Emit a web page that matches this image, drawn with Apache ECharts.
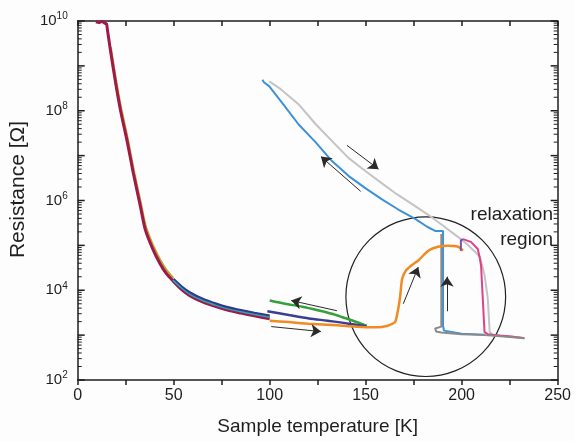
<!DOCTYPE html>
<html><head><meta charset="utf-8">
<script src="https://cdn.jsdelivr.net/npm/echarts@6/dist/echarts.min.js"></script>
<style>html,body{margin:0;padding:0;background:#fdfdfd}#c{width:574px;height:441px}</style>
</head><body><div id="c"></div><script>
// ---------- data (temperature K, resistance Ohm) ----------
const T_olive = [17, 19.7, 22.2, 25.9, 29, 32.6, 35.2, 39, 42.9, 46, 49.6];
const R_olive = [2.6e9, 4.9e8, 1.25e8, 2.3e7, 4.7e6, 9.0e5, 2.7e5, 1.0e5, 4.6e4, 2.8e4, 1.85e4];

const T_red = [9.5, 11, 12.5, 14, 15, 15.5, 17, 19.7, 22.2, 25.9, 29, 32.6, 35.2, 39, 42.9, 46, 49.6, 54, 58.4, 65, 72, 78, 85, 92, 100];
const R_red = [9.6e9, 9.3e9, 9.7e9, 9.0e9, 8.6e9, 6.3e9, 2.3e9, 4.3e8, 1.07e8, 1.95e7, 4.0e6, 7.6e5, 2.24e5, 8.5e4, 3.9e4, 2.4e4, 1.62e4, 1.05e4, 7.6e3, 5.5e3, 4.3e3, 3.6e3, 3.1e3, 2.7e3, 2.3e3];

const T_navyA = [49.6, 54, 58.4, 65, 72, 78, 85, 92, 100];
const R_navyA = [1.75e4, 1.18e4, 8.7e3, 6.3e3, 4.9e3, 4.1e3, 3.5e3, 3.05e3, 2.65e3];
const T_teal = [49.6, 54, 58.4, 65, 72, 78, 85, 92, 100];
const R_teal = [1.68e4, 1.12e4, 8.1e3, 5.9e3, 4.6e3, 3.85e3, 3.3e3, 2.88e3, 2.5e3];

const T_navyB = [98.8, 110, 120.5, 130, 137.6, 145, 150.5];
const R_navyB = [3.4e3, 2.8e3, 2.35e3, 2.1e3, 1.9e3, 1.7e3, 1.55e3];

const T_green = [100, 108, 116.9, 125, 132.4, 138, 142.7, 147, 150.5];
const R_green = [5.9e3, 5.0e3, 4.3e3, 3.6e3, 3.0e3, 2.5e3, 2.15e3, 1.85e3, 1.62e3];

const T_orange = [100, 110, 120, 130, 140, 150, 156, 161, 164, 165.5, 167, 168, 169, 171, 173.8, 177.4, 182.6, 187.7, 192.9, 198.1, 200.7];
const R_orange = [2.1e3, 1.95e3, 1.8e3, 1.7e3, 1.6e3, 1.5e3, 1.5e3, 1.6e3, 1.8e3, 2.0e3, 3.9e3, 7.6e3, 1.8e4, 2.75e4, 3.55e4, 4.6e4, 7.6e4, 9.3e4, 9.8e4, 9.3e4, 7.6e4];

const T_purple = [199.6, 199.6, 200.7];
const R_purple = [7.6e4, 1.3e5, 1.38e5];

const T_pink = [200.7, 204.8, 208.4, 209.3, 210.1, 211, 211.9, 213.6, 220, 226, 232.7];
const R_pink = [1.38e5, 1.2e5, 8.3e4, 5.6e4, 3.55e4, 6.5e3, 1.17e3, 1.05e3, 9.8e2, 9.3e2, 8.5e2];

const T_lgrey = [99.8, 105, 115, 124, 133, 141, 150, 158, 166, 175, 182.6, 190, 198, 203, 206.9, 209.5, 212, 213.6, 214.6, 216, 224, 232];
const R_lgrey = [4.5e8, 3.2e8, 1.4e8, 5.0e7, 2.0e7, 8.9e6, 4.5e6, 2.5e6, 1.4e6, 7.9e5, 4.8e5, 2.8e5, 1.55e5, 1.05e5, 7.2e4, 5.6e4, 2.1e4, 6.5e3, 1.2e3, 1.0e3, 9.3e2, 8.7e2];

const T_blue = [96.2, 97, 99.8, 106.5, 115, 124.1, 132, 141.2, 150, 158.3, 167, 175.8, 182, 186.2, 190.3, 190.3, 190.8, 191.4, 200, 212];
const R_blue = [4.9e8, 4.3e8, 3.5e8, 1.5e8, 5.0e7, 1.95e7, 7.9e6, 3.5e6, 1.86e6, 1.07e6, 6.3e5, 3.9e5, 2.6e5, 2.1e5, 2.1e5, 1.6e3, 1.26e3, 1.15e3, 1.08e3, 1.02e3];

const T_dgrey = [189.4, 189.4, 186.2, 186.7, 189.3, 200, 212, 222, 232.7];
const R_dgrey = [1.8e5, 1.55e3, 1.41e3, 1.2e3, 1.15e3, 1.05e3, 1.0e3, 9.3e2, 8.5e2];

// arrows: [T, R] tail -> head
const arrowTails = [[135, 3.5e3], [100.8, 1.55e3], [147.4, 1.6e6], [140.2, 1.7e7], [169.6, 5.0e3], [192.4, 3.4e3]];
const arrowHeads = [[111.2, 5.9e3], [126.7, 1.2e3], [126.7, 9.5e6], [156.7, 5.0e6], [177.4, 3.3e4], [192.4, 2.0e4]];

// circle annotation (centre in data units, radius in K)
const circleCentre = [181.3, 7.2e3];
const circleRadiusK = 41.6;

// axis ticks
const xMin = 0, xMax = 250, xStep = 50;
const yMin = 1e2, yMax = 1e10;
const yLabelValues = [1e2, 1e4, 1e6, 1e8, 1e10];
const yMajorTicks = [1e2, 1e3, 1e4, 1e5, 1e6, 1e7, 1e8, 1e9, 1e10];
const yMinorMultipliers = [2, 3, 4, 5, 6, 7, 8, 9];

const annotationLines = ['relaxation', 'region'];

// ---------- chart ----------
const FONT = '"Liberation Sans", Arial, Helvetica, sans-serif';
const INK = '#1e1e1e';
const zip = (a, b) => a.map((v, i) => [v, b[i]]);

function lineSeries(T, R, color, width, z, smooth) {
  return { type: 'line', data: zip(T, R), xAxisIndex: 0, yAxisIndex: 0, showSymbol: false, symbol: 'none',
    smooth: smooth || false,
    lineStyle: { color: color, width: width }, z: z || 2, animation: false, silent: true };
}

const minorValues = [];
yMajorTicks.slice(0, -1).forEach(d => yMinorMultipliers.forEach(m => minorValues.push(m * d)));

// y tick marks drawn as thin rect symbols sitting on the left / right axis lines
function tickSeries(values, atX, len, lw, dir) {
  return { type: 'scatter', xAxisIndex: 0, yAxisIndex: 0, silent: true, clip: false, z: 9,
    symbol: 'rect', symbolSize: [len, lw], symbolOffset: [dir * len / 2, 0],
    itemStyle: { color: INK, opacity: 1 }, data: values.map(v => [atX, v]) };
}

const chart = echarts.init(document.getElementById('c'));
const mkLine = () => ({ color: INK, width: 1.5 });

const option = {
  backgroundColor: '#fdfdfd',
  animation: false,
  grid: { left: 77, right: 13, top: 21, bottom: 59 },
  xAxis: [
    { type: 'value', min: xMin, max: xMax, interval: xStep, position: 'bottom',
      axisLine: { onZero: false, lineStyle: mkLine() },
      axisTick: { show: true, inside: false, length: 5, lineStyle: mkLine() },
      minorTick: { show: true, splitNumber: 2, length: 5, lineStyle: mkLine() },
      splitLine: { show: false },
      axisLabel: { fontSize: 16, color: INK, margin: 8, fontFamily: FONT },
      name: 'Sample temperature [K]', nameLocation: 'middle', nameGap: 37,
      nameTextStyle: { fontSize: 19, color: INK, fontFamily: FONT, verticalAlign: 'top' } },
    { type: 'value', min: xMin, max: xMax, interval: xStep, position: 'top',
      axisLine: { onZero: false, lineStyle: mkLine() },
      axisTick: { show: true, inside: true, length: 5, lineStyle: mkLine() },
      minorTick: { show: true, splitNumber: 2, length: 5, lineStyle: mkLine() },
      splitLine: { show: false }, axisLabel: { show: false } }
  ],
  yAxis: [
    { type: 'log', logBase: 10, min: yMin, max: yMax, position: 'left',
      axisLine: { show: true, onZero: false, lineStyle: mkLine() },
      axisTick: { show: false }, splitLine: { show: false },
      axisLabel: { show: true, customValues: yLabelValues, margin: 10, color: INK, fontSize: 15, fontFamily: FONT,
        formatter: v => '10{sup|' + Math.round(Math.log10(v)) + '}',
        rich: { sup: { fontSize: 10, color: INK, fontFamily: FONT, padding: [0, 0, 9, 0] } } },
      name: 'Resistance [Ω]', nameLocation: 'middle', nameGap: 31, nameRotate: 90,
      nameTextStyle: { fontSize: 21, color: INK, fontFamily: FONT, padding: [0, 0, 0, 22] } },
    { type: 'log', logBase: 10, min: yMin, max: yMax, position: 'right',
      axisLine: { show: true, onZero: false, lineStyle: mkLine() },
      axisTick: { show: false }, axisLabel: { show: false }, splitLine: { show: false } }
  ],
  series: [
    lineSeries(T_olive, R_olive, '#b9a534', 3, 2, 0.25),
    lineSeries(T_red, R_red, '#a11a47', 3, 3, 0.25),
    lineSeries(T_navyA, R_navyA, '#2d3a8f', 3.5, 3, 0.25),
    lineSeries(T_teal, R_teal, '#3a9fa6', 1.5, 4, 0.25),
    lineSeries(T_green, R_green, '#36a03a', 2.5, 3, 0.25),
    lineSeries(T_navyB, R_navyB, '#3a3f96', 2.5, 3, 0.25),
    lineSeries(T_orange, R_orange, '#f28a24', 2.5, 4, 0.2),
    lineSeries(T_lgrey, R_lgrey, '#c4c4c4', 2, 2),
    lineSeries(T_pink, R_pink, '#e0408a', 2, 3),
    lineSeries(T_purple, R_purple, '#7a52b3', 2, 4),
    lineSeries(T_blue, R_blue, '#3d91d6', 2, 3),
    lineSeries(T_dgrey, R_dgrey, '#8a8a8a', 2, 3),
    { type: 'lines', coordinateSystem: 'cartesian2d', xAxisIndex: 0, yAxisIndex: 0, silent: true, z: 6,
      symbol: ['none', 'arrow'], symbolSize: [0, 10],
      lineStyle: { color: '#2a2a2a', width: 1, opacity: 1 },
      data: arrowTails.map((t, i) => ({ coords: [t, arrowHeads[i]] })) },
    tickSeries(yMajorTicks, xMin, 7, 1.5, 1),
    tickSeries(minorValues, xMin, 4, 1, 1),
    tickSeries(yMajorTicks, xMax, 7, 1.5, -1),
    tickSeries(minorValues, xMax, 4, 1, -1)
  ]
};
chart.setOption(option);

function drawOverlay() {
  const toPx = p => chart.convertToPixel({ xAxisIndex: 0, yAxisIndex: 0 }, p);
  const c = toPx(circleCentre);
  const e = toPx([circleCentre[0] + circleRadiusK, circleCentre[1]]);
  const r = e[0] - c[0];
  chart.setOption({ graphic: [
    { type: 'circle', shape: { cx: c[0], cy: c[1], r: r }, style: { fill: 'none', stroke: '#222', lineWidth: 1.2 } },
    { type: 'text', right: 21, top: 205, style: { text: annotationLines[0], fill: INK, font: '19px ' + FONT } },
    { type: 'text', right: 21, top: 230, style: { text: annotationLines[1], fill: INK, font: '19px ' + FONT } }
  ] });
}
drawOverlay();
</script></body></html>
